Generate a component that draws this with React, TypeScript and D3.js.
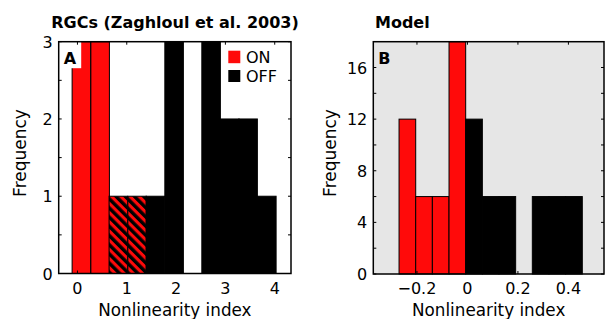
import * as d3 from "d3";

// panel A: RGC data (Zaghloul et al. 2003)
const binCentersA = [0.08, 0.46, 0.83, 1.21, 1.58, 1.96, 2.33, 2.71, 3.09, 3.46, 3.84];
const binWidthA = 0.376;
const onCountsA = [3, 3, 0, 0, 0, 0, 0, 0, 0, 0, 0];
const bothCountsA = [0, 0, 1, 1, 0, 0, 0, 0, 0, 0, 0];
const offCountsA = [0, 0, 0, 0, 1, 3, 0, 3, 2, 2, 1];
const xTicksA = [0, 1, 2, 3, 4];
const yTicksA = [0, 1, 2, 3];
const yMinorA = [0.5, 1.5, 2.5];

// panel B: model
const binCentersB = [-0.238, -0.172, -0.106, -0.04, 0.026, 0.092, 0.158, 0.224, 0.29, 0.356, 0.422];
const binWidthB = 0.066;
const onCountsB = [12, 6, 6, 18, 0, 0, 0, 0, 0, 0, 0];
const offCountsB = [0, 0, 0, 0, 12, 6, 6, 0, 6, 6, 6];
const xTicksB = [-0.2, 0, 0.2, 0.4];
const yTicksB = [0, 4, 8, 12, 16];
const yMinorB = [2, 6, 10, 14];

const FONT = "DejaVu Sans, Arial, sans-serif";
const RED = "#ff0a0a";

type PanelProps = {
  left: number;
  right: number;
  top: number;
  bottom: number;
  xDomain: [number, number];
  yDomain: [number, number];
  centers: number[];
  width: number;
  on: number[];
  off: number[];
  both?: number[];
  xTicks: number[];
  yTicks: number[];
  yMinor: number[];
  bg: string;
  title: string;
  titleX: number;
  titleAnchor: string;
  letter: string;
  letterBox: boolean;
  ylabelX: number;
};

function Panel(p: PanelProps) {
  const x = d3.scaleLinear().domain(p.xDomain).range([p.left, p.right]);
  const y = d3.scaleLinear().domain(p.yDomain).range([p.bottom, p.top]);
  const fmt = d3.format("");
  const tick = 3;

  const bars: JSX.Element[] = [];
  p.centers.forEach((c, i) => {
    const x0 = x(c - p.width / 2);
    const x1 = x(c + p.width / 2);
    const add = (v: number, fill: string, key: string) => {
      if (v <= 0) return;
      bars.push(
        <rect key={key + i} x={x0} y={y(v)} width={x1 - x0} height={p.bottom - y(v)}
          fill={fill} stroke="#000" strokeWidth={1} />
      );
    };
    add(p.on[i], RED, "on");
    add(p.off[i], "#000", "off");
    if (p.both) add(p.both[i], "url(#hatch)", "both");
  });

  const cx = (p.left + p.right) / 2;

  return (
    <g fontFamily={FONT}>
      <rect x={p.left} y={p.top} width={p.right - p.left} height={p.bottom - p.top} fill={p.bg} />
      {bars}
      {p.letterBox && <rect x={p.left} y={p.top} width={22.5} height={26.5} fill="#fff" />}
      <text x={p.left + 5} y={p.top + 22} fontSize={16} fontWeight="bold">{p.letter}</text>
      <rect x={p.left} y={p.top} width={p.right - p.left} height={p.bottom - p.top}
        fill="none" stroke="#000" strokeWidth={1.5} />
      {p.xTicks.map((t) => (
        <g key={"xt" + t}>
          <line x1={x(t)} x2={x(t)} y1={p.bottom} y2={p.bottom - tick} stroke="#000" />
          <line x1={x(t)} x2={x(t)} y1={p.top} y2={p.top + tick} stroke="#000" />
          <text x={x(t)} y={p.bottom + 20} fontSize={16} textAnchor="middle">{fmt(t)}</text>
        </g>
      ))}
      {p.yTicks.concat(p.yMinor).map((t) => (
        <g key={"yt" + t}>
          <line x1={p.left} x2={p.left + tick} y1={y(t)} y2={y(t)} stroke="#000" />
          <line x1={p.right} x2={p.right - tick} y1={y(t)} y2={y(t)} stroke="#000" />
        </g>
      ))}
      {p.yTicks.map((t) => (
        <text key={"yl" + t} x={p.left - 6} y={y(t) + 6} fontSize={16} textAnchor="end">{fmt(t)}</text>
      ))}
      <text x={p.titleX} y={27.5} fontSize={16} fontWeight="bold" textAnchor={p.titleAnchor}>{p.title}</text>
      <text x={cx} y={315.6} fontSize={16.8} textAnchor="middle">Nonlinearity index</text>
      <text transform={`translate(${p.ylabelX},${153}) rotate(-90)`} fontSize={17} textAnchor="middle">Frequency</text>
    </g>
  );
}

export default function App() {
  return (
    <svg width={605} height={319} style={{ position: "absolute", left: 0, top: 0, background: "#fff" }}>
      <defs>
        <pattern id="hatch" patternUnits="userSpaceOnUse" width={6.5} height={6.5} patternTransform="rotate(-45)">
          <rect x={0} y={0} width={6.5} height={6.5} fill={RED} />
          <rect x={0} y={0} width={3.4} height={6.5} fill="#000" />
        </pattern>
      </defs>
      <Panel left={58.7} right={291} top={41.7} bottom={273.5} xDomain={[-0.38, 4.33]} yDomain={[0, 3]}
        centers={binCentersA} width={binWidthA} on={onCountsA} off={offCountsA} both={bothCountsA}
        xTicks={xTicksA} yTicks={yTicksA} yMinor={yMinorA} bg="#fff"
        title="RGCs (Zaghloul et al. 2003)" titleX={175} titleAnchor="middle" letter="A" letterBox={true}
        ylabelX={25.5} />
      {/* legend */}
      <g fontFamily={FONT}>
        <rect x={225} y={46.5} width={62} height={37} fill="#fff" />
        <rect x={228.3} y={50.7} width={12} height={12.5} fill={RED} />
        <text x={246} y={63.3} fontSize={16}>ON</text>
        <rect x={228.3} y={70} width={12} height={12} fill="#000" />
        <text x={246} y={82} fontSize={16}>OFF</text>
      </g>
      <Panel left={373.3} right={604} top={41.7} bottom={274} xDomain={[-0.373, 0.541]} yDomain={[0, 18]}
        centers={binCentersB} width={binWidthB} on={onCountsB} off={offCountsB}
        xTicks={xTicksB} yTicks={yTicksB} yMinor={yMinorB} bg="#e6e6e6"
        title="Model" titleX={375} titleAnchor="start" letter="B" letterBox={false}
        ylabelX={335.5} />
    </svg>
  );
}
